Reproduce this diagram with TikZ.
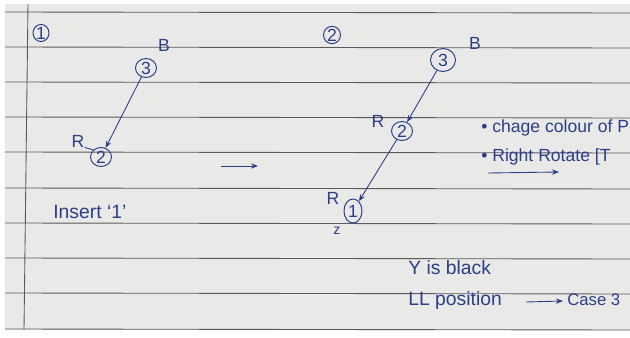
\documentclass[tikz,border=0pt]{standalone}
\usepackage{fontspec}
\setmainfont{Liberation Sans}
\usetikzlibrary{shapes.geometric,arrows.meta}
\definecolor{ink}{HTML}{2B3E8C}
\definecolor{paper}{HTML}{E9E9E7}
\definecolor{rule}{HTML}{5A5A5A}
\tikzset{
  tnode/.style={draw=ink, ellipse, line width=0.55pt, minimum width=0.42cm, minimum height=0.38cm, inner sep=0pt, text=ink, font=\fontsize{10}{10}\selectfont},
  lab/.style={text=ink, font=\fontsize{10}{10}\selectfont, inner sep=0pt},
  txt/.style={text=ink, font=\fontsize{11}{12}\selectfont, inner sep=0pt, anchor=west},
  note/.style={text=ink, font=\fontsize{10}{11}\selectfont, inner sep=0pt, anchor=west},
  edge/.style={draw=ink, line width=0.5pt, -{Stealth[length=4pt,width=3pt]}},
  ruling/.style={draw=rule, line width=0.5pt}
}
\begin{document}
\begin{tikzpicture}[x=0.02cm,y=-0.02cm]
\useasboundingbox (0,0) rectangle (630,338);
\clip (0,0) rectangle (630,338);
\fill[white] (0,0) rectangle (630,338);
\fill[paper] (5,4) rectangle (630,330);
% ruled lines
\foreach \y in {12,47,82,117,152,188,223,258,293,329}
  \draw[ruling] (5,\y) -- (630,\y+1);
\draw[ruling] (28,4) -- (24,330);
% panel 1
\node[tnode, minimum width=0.32cm, minimum height=0.34cm] (c1) at (41,33) {1};
\node[tnode] (a3) at (146,68) {3};
\node[lab] (aB) at (164,45) {B};
\node[tnode] (a2) at (101,157) {2};
\node[lab] (aR) at (78,141) {R};
\draw[edge] (a3) -- (a2);
\draw[draw=ink, line width=0.5pt] (aR.south east) -- (a2.north west);
\node[txt] (ins) at (53,212) {Insert ‘1’};
% middle arrow
\coordinate (m1) at (221,166);
\coordinate (m2) at (258,166);
\draw[edge] (m1) -- (m2);
% panel 2
\node[tnode, minimum width=0.34cm, minimum height=0.34cm] (c2) at (332,35) {2};
\node[tnode, minimum width=0.5cm, minimum height=0.46cm] (b3) at (443,60) {3};
\node[lab] (bB) at (475,43) {B};
\node[tnode] (b2) at (402,131) {2};
\node[lab] (bR) at (378,121) {R};
\node[tnode, minimum width=0.36cm, minimum height=0.48cm] (b1) at (353,211) {1};
\node[lab] (bR2) at (333,198) {R};
\node[lab, font=\fontsize{8}{8}\selectfont] (bz) at (337,231) {z};
\draw[edge] (b3) -- (b2);
\draw[edge] (b2) -- (b1);
% notes
\node[note] (n1) at (481,128) {• chage colour of P};
\node[note] (n2) at (481,157) {• Right Rotate [T};
\coordinate (r1) at (488,173);
\coordinate (r2) at (559,172);
\draw[edge] (r1) -- (r2);
\node[txt] (y1) at (408,268) {Y is black};
\node[txt] (ll) at (408,301) {LL position};
\coordinate (l1) at (526,302);
\coordinate (l2) at (563,301);
\draw[edge] (l1) -- (l2);
\node[note, font=\fontsize{9.5}{10}\selectfont] (cs) at (567,300) {Case 3};
\end{tikzpicture}
\end{document}
